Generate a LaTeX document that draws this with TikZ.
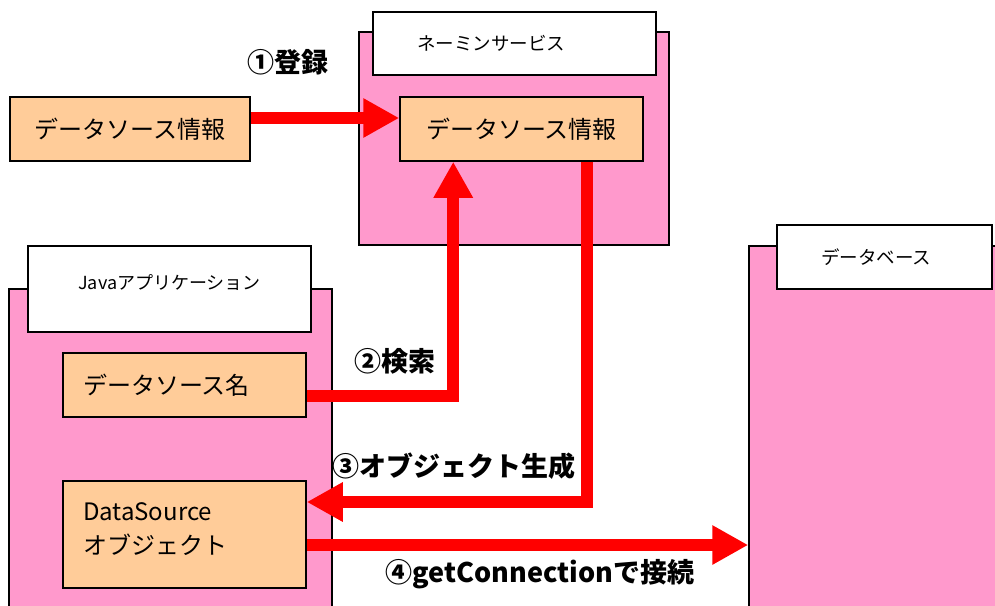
\documentclass[tikz,border=0pt]{standalone}
\usepackage{fontspec}
\setmainfont{Noto Sans CJK JP}
\usetikzlibrary{arrows.meta,calc}
\definecolor{pinkbg}{HTML}{FF99CC}
\definecolor{orangebg}{HTML}{FFCC99}
\definecolor{arrowred}{HTML}{FF0000}
\tikzset{
  container/.style={draw=black, line width=1.5pt, fill=pinkbg, rectangle, inner sep=0pt},
  tagbox/.style={draw=black, line width=1.5pt, fill=white, rectangle, font=\fontsize{18.5}{22}\selectfont},
  itembox/.style={draw=black, line width=1.5pt, fill=orangebg, rectangle, font=\fontsize{24}{34}\selectfont},
  redarrow/.style={draw=arrowred, line width=12pt, line join=miter, -{Triangle[length=36pt,width=37pt]}},
  steplabel/.style={font=\fontsize{27}{30}\selectfont\bfseries, inner sep=0pt}
}
\begin{document}
\begin{tikzpicture}[x=1pt,y=-1pt]
\useasboundingbox (0,0) rectangle (995,605);
\clip (0,0) rectangle (995,605);
% containers
\node[container, minimum width=310pt, minimum height=213pt] (ns) at (514,138.5) {};
\node[tagbox, inner xsep=44pt, text width=195pt, align=left, minimum height=63pt] (nsl) at (514.5,43.5) {ネーミンサービス};
\node[container, minimum width=323pt, minimum height=331pt] (ja) at (170.5,454.5) {};
\node[tagbox, font=\fontsize{18}{20}\selectfont, minimum width=283pt, minimum height=86pt, text depth=14pt] (jal) at (169.5,289) {Javaアプリケーション};
\node[container, minimum width=261pt, minimum height=374pt] (db) at (879.5,433) {};
\node[tagbox, inner xsep=44pt, text width=127pt, align=left, minimum height=64pt] (dbl) at (884.5,257) {データベース};
% items
\node[itembox, minimum width=240pt, minimum height=64pt] (src) at (130,129) {データソース情報};
\node[itembox, minimum width=243pt, minimum height=64pt] (ni) at (521.5,129) {データソース情報};
\node[itembox, inner xsep=20pt, text width=203pt, align=left, minimum height=64pt] (dsn) at (184.5,385) {データソース名};
\node[itembox, inner xsep=20pt, text width=203pt, align=left, minimum height=107pt, text depth=45pt] (ds) at (184.5,534.5) {DataSource\\オブジェクト};
% arrows
\coordinate (a1s) at ([yshift=11pt]src.east);
\coordinate (a2s) at ([yshift=-11pt]dsn.east);
\coordinate (a2e) at ([xshift=54pt]ni.south west);
\coordinate (a3s) at ([xshift=188pt]ni.south west);
\coordinate (a3e) at ([yshift=32.5pt]ds.east);
\coordinate (a4s) at ([yshift=-10.5pt]ds.east);
\draw[redarrow] (a1s) -- (a1s -| ni.west);
\draw[redarrow] (a2s) -| (a2e);
\draw[redarrow] (a3s) |- (a3e);
\draw[redarrow] (a4s) -- (a4s -| db.west);
% step labels
\node[steplabel] (l1) at (288,62) {①登録};
\node[steplabel] (l2) at (395,361) {②検索};
\node[steplabel] (l3) at (454,466) {③オブジェクト生成};
\node[steplabel] (l4) at (540,574) {④getConnectionで接続};
\end{tikzpicture}
\end{document}
